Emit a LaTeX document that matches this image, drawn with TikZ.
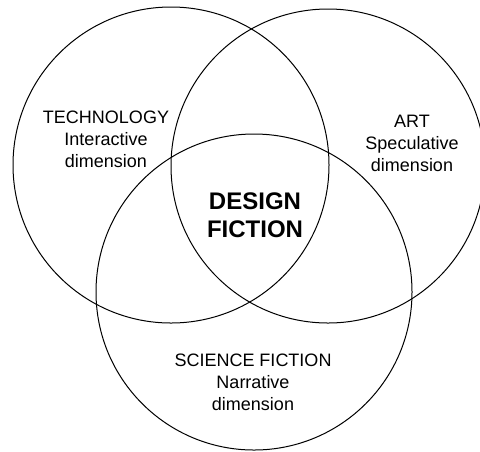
\documentclass[tikz,border=0pt]{standalone}
\usepackage{fontspec}
\setmainfont{Liberation Sans}

\tikzset{
  field/.style={align=center, font=\fontsize{9}{11}\selectfont},
  core/.style={align=center, font=\bfseries\fontsize{12}{14}\selectfont},
}

\begin{document}
\begin{tikzpicture}[x=0.5pt,y=-0.5pt]
\useasboundingbox (0,0) rectangle (480,451);
\draw[line width=0.5pt] (171,165) circle (79pt);
\draw[line width=0.5pt] (328,166) circle (78.5pt);
\draw[line width=0.5pt] (254,292) circle (79pt);
\node[field] (tech) at (106,139) {TECHNOLOGY\\Interactive\\dimension};
\node[field] (art) at (412,143) {ART\\Speculative\\dimension};
\node[field] (scifi) at (253,382) {SCIENCE FICTION\\Narrative\\dimension};
\node[core] (design) at (255,215) {DESIGN\\FICTION};
\end{tikzpicture}
\end{document}
